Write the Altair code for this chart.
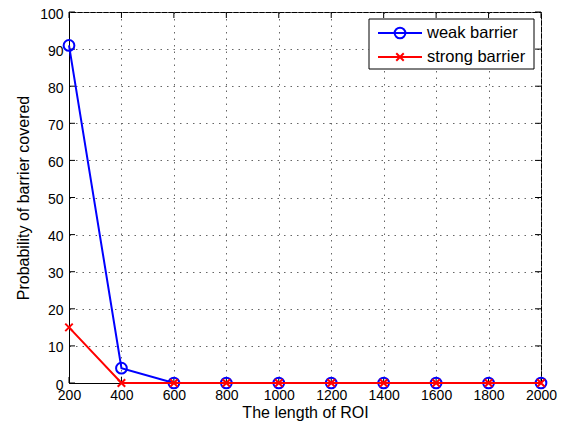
import altair as alt
import pandas as pd

lengths = [200, 400, 600, 800, 1000, 1200, 1400, 1600, 1800, 2000]
weak = [91, 4, 0, 0, 0, 0, 0, 0, 0, 0]
strong = [15, 0, 0, 0, 0, 0, 0, 0, 0, 0]
x_ticks = [200, 400, 600, 800, 1000, 1200, 1400, 1600, 1800, 2000]
y_ticks = [0, 10, 20, 30, 40, 50, 60, 70, 80, 90, 100]
series_names = ["weak barrier", "strong barrier"]

W, H = 472, 371
FONT = "Liberation Sans"

df_w = pd.DataFrame({"x": lengths, "y": weak})
df_s = pd.DataFrame({"x": lengths, "y": strong})
df_xt = pd.DataFrame({"x": x_ticks})
df_yt = pd.DataFrame({"y": y_ticks})

xscale = alt.Scale(domain=[200, 2000], nice=False)
yscale = alt.Scale(domain=[0, 100], nice=False)

GRID_DASH = [1.5, 5]
GRID_COLOR = "#666"

xaxis = alt.Axis(values=x_ticks, title="The length of ROI", grid=True,
                 gridDash=GRID_DASH, gridColor=GRID_COLOR, gridWidth=1,
                 ticks=False, labelPadding=5, labelFontSize=14,
                 titleFontSize=16, titleFontWeight="normal", titlePadding=2,
                 domainColor="black", labelColor="black", titleColor="black",
                 labelFont=FONT, titleFont=FONT, format="d", labelFlush=False,
                 labelOverlap=False)
yaxis = alt.Axis(values=y_ticks, title="Probability of barrier covered", grid=True,
                 gridDash=GRID_DASH, gridColor=GRID_COLOR, gridWidth=1,
                 ticks=False, labelPadding=6, labelFontSize=14, labelOffset=2,
                 titleFontSize=16, titleFontWeight="normal", titlePadding=8,
                 domainColor="black", labelColor="black", titleColor="black",
                 labelFont=FONT, titleFont=FONT, labelOverlap=False, labelFlush=False,
                 format="d")

X = alt.X("x:Q", scale=xscale, axis=xaxis)
Y = alt.Y("y:Q", scale=yscale, axis=yaxis)

tick_len = 6
bt = alt.Chart(df_xt).mark_rule(color="black", strokeWidth=1).encode(
    x=X, y=alt.value(H), y2=alt.value(H - tick_len))
tt = alt.Chart(df_xt).mark_rule(color="black", strokeWidth=1).encode(
    x=X, y=alt.value(0), y2=alt.value(tick_len))
lt = alt.Chart(df_yt).mark_rule(color="black", strokeWidth=1).encode(
    y=Y, x=alt.value(0), x2=alt.value(tick_len))
rt = alt.Chart(df_yt).mark_rule(color="black", strokeWidth=1).encode(
    y=Y, x=alt.value(W), x2=alt.value(W - tick_len))

cross_path = "M-1,-1L1,1M-1,1L1,-1"

weak_line = alt.Chart(df_w).mark_line(color="#0000ff", strokeWidth=2, clip=False).encode(x=X, y=Y)
weak_pts = alt.Chart(df_w).mark_point(shape="circle", filled=False, color="#0000ff",
                                      size=115, strokeWidth=2, opacity=1, clip=False).encode(x=X, y=Y)
strong_line = alt.Chart(df_s).mark_line(color="#ff0000", strokeWidth=2, clip=False).encode(x=X, y=Y)
strong_pts = alt.Chart(df_s).mark_point(shape=cross_path, filled=False, color="#ff0000",
                                        size=56, strokeWidth=2, opacity=1, clip=False).encode(x=X, y=Y)

# legend (drawn in the plot area, pixel positions)
lx0, lx1, ly0, ly1 = 300, 465, 7, 57
rows = [21, 45]
one = df_w.head(1)
leg_box = alt.Chart(one).mark_rect(fill="white", stroke="black", strokeWidth=1).encode(
    x=alt.value(lx0), x2=alt.value(lx1), y=alt.value(ly0), y2=alt.value(ly1))
leg_l1 = alt.Chart(one).mark_rule(color="#0000ff", strokeWidth=2).encode(
    x=alt.value(309), x2=alt.value(353), y=alt.value(rows[0]))
leg_p1 = alt.Chart(one).mark_point(shape="circle", filled=False, color="#0000ff",
                                   size=115, strokeWidth=2, opacity=1).encode(
    x=alt.value(331), y=alt.value(rows[0]))
leg_l2 = alt.Chart(one).mark_rule(color="#ff0000", strokeWidth=2).encode(
    x=alt.value(309), x2=alt.value(353), y=alt.value(rows[1]))
leg_p2 = alt.Chart(one).mark_point(shape=cross_path, filled=False, color="#ff0000",
                                   size=56, strokeWidth=2, opacity=1).encode(
    x=alt.value(331), y=alt.value(rows[1]))
leg_t1 = alt.Chart(one).mark_text(text=series_names[0], align="left", baseline="middle",
                                  fontSize=16.5, font=FONT, color="black").encode(
    x=alt.value(358), y=alt.value(rows[0]))
leg_t2 = alt.Chart(one).mark_text(text=series_names[1], align="left", baseline="middle",
                                  fontSize=16.5, font=FONT, color="black").encode(
    x=alt.value(358), y=alt.value(rows[1]))

chart = alt.layer(
    bt, tt, lt, rt,
    weak_line, weak_pts, strong_line, strong_pts,
    leg_box, leg_l1, leg_p1, leg_l2, leg_p2, leg_t1, leg_t2,
).properties(
    width=W, height=H,
    autosize=alt.AutoSizeParams(type="none"),
    padding={"left": 61, "top": 4, "right": 17, "bottom": 42},
    background="white",
).configure_view(stroke="black", strokeWidth=1)

chart.save("out.html", embed_options={"renderer": "svg", "actions": False})
